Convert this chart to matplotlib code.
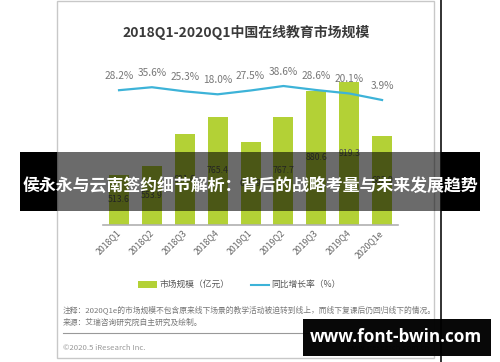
import matplotlib.pyplot as plt
from matplotlib.patches import Rectangle

plt.rcParams['font.family'] = ['Noto Sans CJK SC', 'DejaVu Sans']

# 数据
quarters = ['2018Q1', '2018Q2', '2018Q3', '2018Q4', '2019Q1',
            '2019Q2', '2019Q3', '2019Q4', '2020Q1e']
market = [513.6, 553.9, 691.6, 765.4, 656.9, 767.7, 880.6, 919.3, 682.9]
growth = [28.2, 35.6, 25.3, 18.0, 27.5, 38.6, 28.6, 20.1, 3.9]

W, H = 500, 362
fig = plt.figure(figsize=(W / 100, H / 100), dpi=100)

# 背景层（像素坐标）
bg = fig.add_axes([0, 0, 1, 1])
bg.set_xlim(0, W)
bg.set_ylim(H, 0)
bg.axis('off')
bg.add_patch(Rectangle((57, 1), 377, 357, facecolor='white', edgecolor='#c8c8c8', lw=1))
bg.plot([441, 441], [0, H], color='#222222', lw=1.3)
bg.text(246.5, 32, '2018Q1-2020Q1中国在线教育市场规模', ha='center', va='center',
        fontsize=10, fontweight='bold', color='#3a3a3a')

# 图例
bg.add_patch(Rectangle((138, 281), 19, 7, facecolor='#b3d136', edgecolor='none'))
bg.text(159, 284.5, '市场规模（亿元）', ha='left', va='center', fontsize=6.3, color='#555555')
bg.plot([251, 269], [284.5, 284.5], color='#3db3d8', lw=1.5)
bg.text(271, 284.5, '同比增长率（%）', ha='left', va='center', fontsize=6.3, color='#555555')

# 注释
bg.text(63, 310, '注释：2020Q1e的市场规模不包含原来线下场景的教学活动被迫转到线上，而线下复课后仍回归线下的情况。',
        ha='left', va='center', fontsize=5.6, color='#777777')
bg.text(63, 323, '来源：艾瑞咨询研究院自主研究及绘制。', ha='left', va='center', fontsize=5.6, color='#777777')
bg.plot([63, 430], [333, 333], color='#999999', lw=0.8)
bg.text(63, 348, '©2020.5 iResearch Inc.', ha='left', va='center', fontsize=5.6, color='#999999')
bg.text(430, 348, 'www.iresearch.com.cn', ha='right', va='center', fontsize=5.6, color='#999999')

# 主图
base_px, top_px = 224.5, 63.2
ax = fig.add_axes([102.6 / W, (H - base_px) / H, 295.9 / W, (base_px - top_px) / H])
ax.patch.set_alpha(0)
x = list(range(len(quarters)))
ax.bar(x, market, width=0.61, color='#b3d136', zorder=2)
ax.set_xlim(-0.5, 8.5)
ax.set_ylim(300, 1000)
for s in ['top', 'left', 'right']:
    ax.spines[s].set_visible(False)
ax.spines['bottom'].set_color('#b0b0b0')
ax.spines['bottom'].set_linewidth(1.2)
ax.set_yticks([])
ax.set_xticks(x)
ax.set_xticklabels(quarters, rotation=45, ha='right', va='center',
                   rotation_mode='anchor', fontsize=6.3, color='#666666')
ax.tick_params(axis='x', length=0, pad=5)
for i, v in enumerate(market):
    ax.text(i, (300 + v) / 2, f'{v:.1f}', ha='center', va='center',
            fontsize=6.3, color='#555555', zorder=3)

ax2 = ax.twinx()
ax2.set_ylim(-305, 95.2)
ax2.axis('off')
ax2.plot(x, growth, color='#3db3d8', lw=1.6)
for i, g in enumerate(growth):
    ax2.annotate(f'{g:.1f}%', (i, g), xytext=(0, 14), textcoords='offset pixels',
                 ha='center', va='center', fontsize=7.3, color='#777777')

# 顶层横幅与水印
top = fig.add_axes([0, 0, 1, 1])
top.set_zorder(10)
top.patch.set_alpha(0)
top.set_xlim(0, W)
top.set_ylim(H, 0)
top.axis('off')
top.add_patch(Rectangle((20, 152), 37, 59, facecolor='black', edgecolor='none'))
top.add_patch(Rectangle((57, 152), 384, 59, facecolor='black', alpha=0.58, edgecolor='none'))
top.add_patch(Rectangle((441, 152), 39, 59, facecolor='black', edgecolor='none'))
top.text(250, 186, '侯永永与云南签约细节解析：背后的战略考量与未来发展趋势', ha='center', va='center',
         fontsize=12.2, fontweight='bold', color='white')
top.add_patch(Rectangle((303, 319), 188, 37, facecolor='black', alpha=0.97, edgecolor='none'))
top.text(396, 337, 'www.font-bwin.com', ha='center', va='center',
         fontsize=12.3, fontweight='bold', color='white', family='Open Sans')

fig.savefig('out.png', dpi=100)
